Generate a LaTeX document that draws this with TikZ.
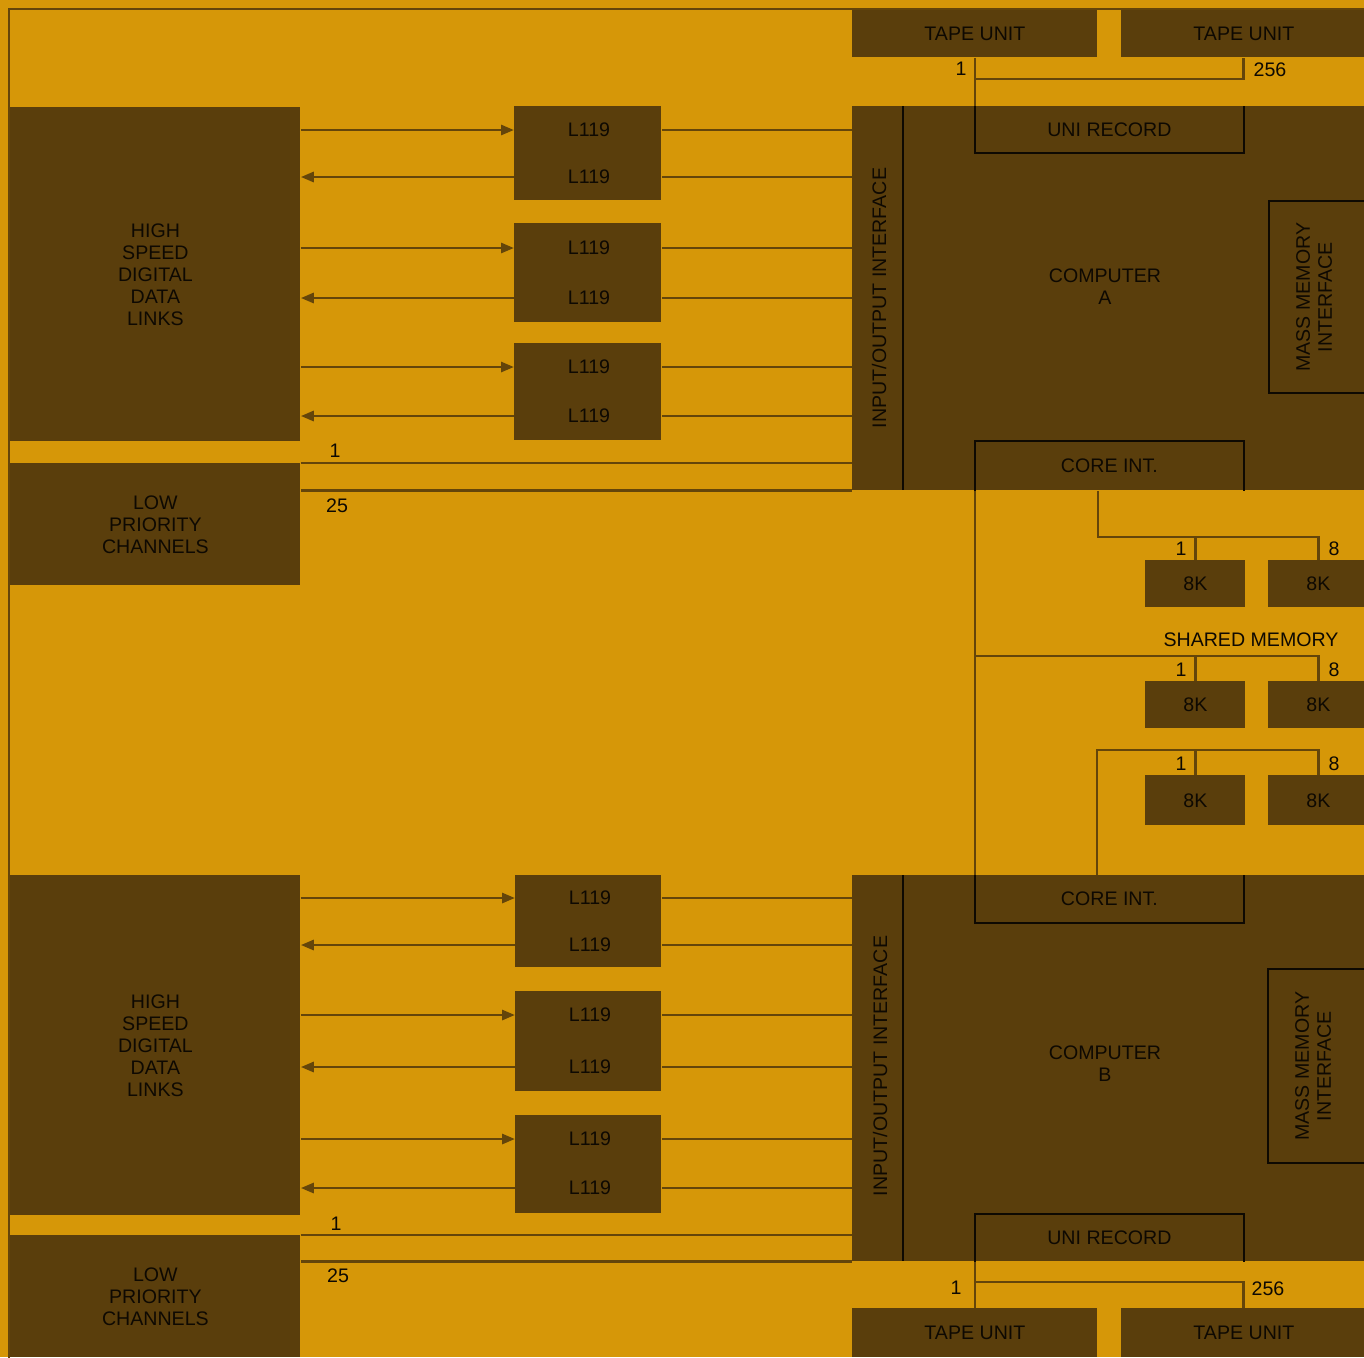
\documentclass[tikz,border=0pt]{standalone}
\usepackage{fontspec}
\setmainfont{Liberation Sans}
\usepackage{xcolor}
\definecolor{bggold}{RGB}{214,151,8}
\definecolor{boxbrown}{RGB}{90,62,12}
\definecolor{wirebrown}{RGB}{100,69,10}
\definecolor{inkblack}{RGB}{14,9,2}
\usepackage{tikz}
\usetikzlibrary{arrows.meta,positioning,calc}
\newcommand{\lblfont}{\fontsize{9.8}{11}\selectfont}
\tikzset{
	blk/.style  = {rectangle,fill=boxbrown,inner sep=0pt,anchor=north west,
		align=center,font=\lblfont,text=inkblack},
	ibox/.style = {rectangle,inner sep=0pt,anchor=north west,
		align=center,font=\lblfont,text=inkblack},
	lbl/.style  = {align=center,font=\lblfont,text=inkblack,inner sep=0pt},
	inl/.style  = {line width=1.1pt,inkblack},
	wire/.style = {line width=1.4pt,wirebrown},
	arr/.style  = {wire,-{Triangle[length=6.5pt,width=5pt]}},
}

\begin{document}
\begin{tikzpicture}[x=0.5pt,y=-0.5pt]
	\useasboundingbox (0,0) rectangle (1364,1357);
	\fill[bggold] (0,0) rectangle (1364,1357);
	\clip (0,0) rectangle (1364,1357);
	\draw[wirebrown,line width=0.8pt] (9,1400) -- (9,9) -- (1400,9);
	
	%% Computer A
	\node (tapeA1) [blk,minimum width=122.5pt,minimum height=23.5pt] at (852,10) {TAPE UNIT};
	\node (tapeA2) [blk,minimum width=122.5pt,minimum height=23.5pt] at (1121,10) {TAPE UNIT};
	\node (compA) [blk,minimum width=256pt,minimum height=192pt] at (852,106) {};
	\draw[inl] (compA.north west)++(51,0) -- ++(0,384);
	\node (ioA) [lbl,rotate=90] at (879,298) {INPUT/OUTPUT INTERFACE};
	\node (uniA) [ibox,minimum width=134pt,minimum height=23pt] at (975,106) {UNI RECORD};
	\draw[inl] (uniA.north west) |- (uniA.south east) -- (uniA.north east);
	\node (cA) [lbl] at (1105,287) {COMPUTER\\A};
	\node (mmA) [ibox,draw=inkblack,line width=1.1pt,minimum width=60pt,minimum height=96pt] at (1268,200) {};
	\node (mmAtxt) [lbl,rotate=90] at ($(mmA.west)+(46,0)$) {MASS MEMORY\\INTERFACE};
	\node (coreA) [ibox,minimum width=134pt,minimum height=24.5pt] at (975,441) {CORE INT.};
	\draw[inl] (coreA.south west) |- (coreA.north east) -- (coreA.south east);
	
	\coordinate (tjA) at (975,79);
	\draw[wire] (tapeA1.south -| uniA.north west) -- (uniA.north west);
	\draw[wire] (tjA) -| (tapeA2.south -| uniA.north east);
	\node (nA1)   [lbl] at (961,69) {1};
	\node (nA256) [lbl] at (1270,70) {256};
	
	%% Links A
	\node (hsA) [blk,minimum width=145pt,minimum height=167pt] at (10,107)
	{HIGH\\SPEED\\DIGITAL\\DATA\\LINKS};
	\node (bA1) [blk,minimum width=73.5pt,minimum height=47pt] at (514,106) {};
	\node (bA2) [blk,minimum width=73.5pt,minimum height=49.5pt] at (514,223) {};
	\node (bA3) [blk,minimum width=73.5pt,minimum height=48.5pt] at (514,343) {};
	\node (lA1) [lbl] at (589,130) {L119};
	\node (lA2) [lbl] at (589,177) {L119};
	\node (lA3) [lbl] at (589,248) {L119};
	\node (lA4) [lbl] at (589,298) {L119};
	\node (lA5) [lbl] at (589,367) {L119};
	\node (lA6) [lbl] at (589,416) {L119};
	\foreach \b/\u/\d in {bA1/lA1/lA2,bA2/lA3/lA4,bA3/lA5/lA6}{
		\draw[arr] (hsA.east |- \u) -- (\b.west |- \u);
		\draw[arr] (\b.west |- \d) -- (hsA.east |- \d);
		\draw[wire] (\b.east |- \u) -- (compA.west |- \u);
		\draw[wire] (\b.east |- \d) -- (compA.west |- \d);
	}
	\node (lowA) [blk,minimum width=145pt,minimum height=61pt] at (10,463)
	{LOW\\PRIORITY\\CHANNELS};
	\draw[wire] (lowA.north east) -- (compA.west |- lowA.north east);
	\draw[wire] (lowA.east |- compA.south) -- (compA.south west);
	\node (cA1)  [lbl] at (335,451) {1};
	\node (cA25) [lbl] at (337,506) {25};
	
	%% Shared memory
	\node (mA1) [blk,minimum width=50pt,minimum height=23.5pt] at (1145,560) {8K};
	\node (mA8) [blk,minimum width=50pt,minimum height=23.5pt] at (1268,560) {8K};
	\node (mB1) [blk,minimum width=50pt,minimum height=23.5pt] at (1145,681) {8K};
	\node (mB8) [blk,minimum width=50pt,minimum height=23.5pt] at (1268,681) {8K};
	\node (mC1) [blk,minimum width=50pt,minimum height=25pt] at (1145,775) {8K};
	\node (mC8) [blk,minimum width=50pt,minimum height=25pt] at (1268,775) {8K};
	\node (shm) [lbl] at (1251,640) {SHARED MEMORY};
	\foreach \y/\r in {549/A,670/B,764/C}{
		\node (s\r1) [lbl] at (1181,\y) {1};
		\node (s\r8) [lbl] at (1334,\y) {8};
	}
	
	%% Computer B
	\node (compB) [blk,minimum width=256pt,minimum height=193pt] at (852,875) {};
	\draw[inl] (compB.north west)++(51,0) -- ++(0,386);
	\node (ioB) [lbl,rotate=90] at (880,1066) {INPUT/OUTPUT INTERFACE};
	\node (coreB) [ibox,minimum width=134pt,minimum height=23.5pt] at (975,875) {CORE INT.};
	\draw[inl] (coreB.north west) |- (coreB.south east) -- (coreB.north east);
	\node (cB) [lbl] at (1105,1064) {COMPUTER\\B};
	\node (mmB) [ibox,draw=inkblack,line width=1.1pt,minimum width=60pt,minimum height=97pt] at (1267,968) {};
	\node (mmBtxt) [lbl,rotate=90] at ($(mmB.west)+(46,0)$) {MASS MEMORY\\INTERFACE};
	\node (uniB) [ibox,minimum width=134pt,minimum height=23.5pt] at (975,1214) {UNI RECORD};
	\draw[inl] (uniB.south west) |- (uniB.north east) -- (uniB.south east);
	\node (tapeB1) [blk,minimum width=122.5pt,minimum height=24.5pt] at (852,1308) {TAPE UNIT};
	\node (tapeB2) [blk,minimum width=122.5pt,minimum height=24.5pt] at (1121,1308) {TAPE UNIT};
	
	\coordinate (tjB) at (975,1282);
	\draw[wire] (uniB.south west) -- (tapeB1.north -| uniB.south west);
	\draw[wire] (tjB) -| (tapeB2.north -| uniB.south east);
	\node (nB1)   [lbl] at (956,1288) {1};
	\node (nB256) [lbl] at (1268,1289) {256};
	
	%% Memory buses
	\coordinate (busA) at (1098,537);
	\coordinate (busB) at (975,656);
	\coordinate (busC) at (1097,750);
	\draw[wire] (coreA.south west) -- (coreB.north west);
	\draw[wire] (coreA.south -| busA) |- (busA -| mA8.north) -- (mA8.north);
	\draw[wire] (mA1.north) -- (mA1.north |- busA);
	\draw[wire] (busB) -| (mB8.north);
	\draw[wire] (mB1.north) -- (mB1.north |- busB);
	\draw[wire] (coreB.north -| busC) |- (busC -| mC8.north) -- (mC8.north);
	\draw[wire] (mC1.north) -- (mC1.north |- busC);
	
	%% Links B
	\node (hsB) [blk,minimum width=145pt,minimum height=170pt] at (10,875)
	{HIGH\\SPEED\\DIGITAL\\DATA\\LINKS};
	\node (bB1) [blk,minimum width=73pt,minimum height=46pt] at (515,875) {};
	\node (bB2) [blk,minimum width=73pt,minimum height=50pt] at (515,991) {};
	\node (bB3) [blk,minimum width=73pt,minimum height=49pt] at (515,1115) {};
	\node (lB1) [lbl] at (590,898) {L119};
	\node (lB2) [lbl] at (590,945) {L119};
	\node (lB3) [lbl] at (590,1015) {L119};
	\node (lB4) [lbl] at (590,1067) {L119};
	\node (lB5) [lbl] at (590,1139) {L119};
	\node (lB6) [lbl] at (590,1188) {L119};
	\foreach \b/\u/\d in {bB1/lB1/lB2,bB2/lB3/lB4,bB3/lB5/lB6}{
		\draw[arr] (hsB.east |- \u) -- (\b.west |- \u);
		\draw[arr] (\b.west |- \d) -- (hsB.east |- \d);
		\draw[wire] (\b.east |- \u) -- (compB.west |- \u);
		\draw[wire] (\b.east |- \d) -- (compB.west |- \d);
	}
	\node (lowB) [blk,minimum width=145pt,minimum height=61pt] at (10,1235)
	{LOW\\PRIORITY\\CHANNELS};
	\draw[wire] (lowB.north east) -- (compB.west |- lowB.north east);
	\draw[wire] (lowB.east |- compB.south) -- (compB.south west);
	\node (cB1)  [lbl] at (336,1224) {1};
	\node (cB25) [lbl] at (338,1276) {25};
\end{tikzpicture}
\end{document}
